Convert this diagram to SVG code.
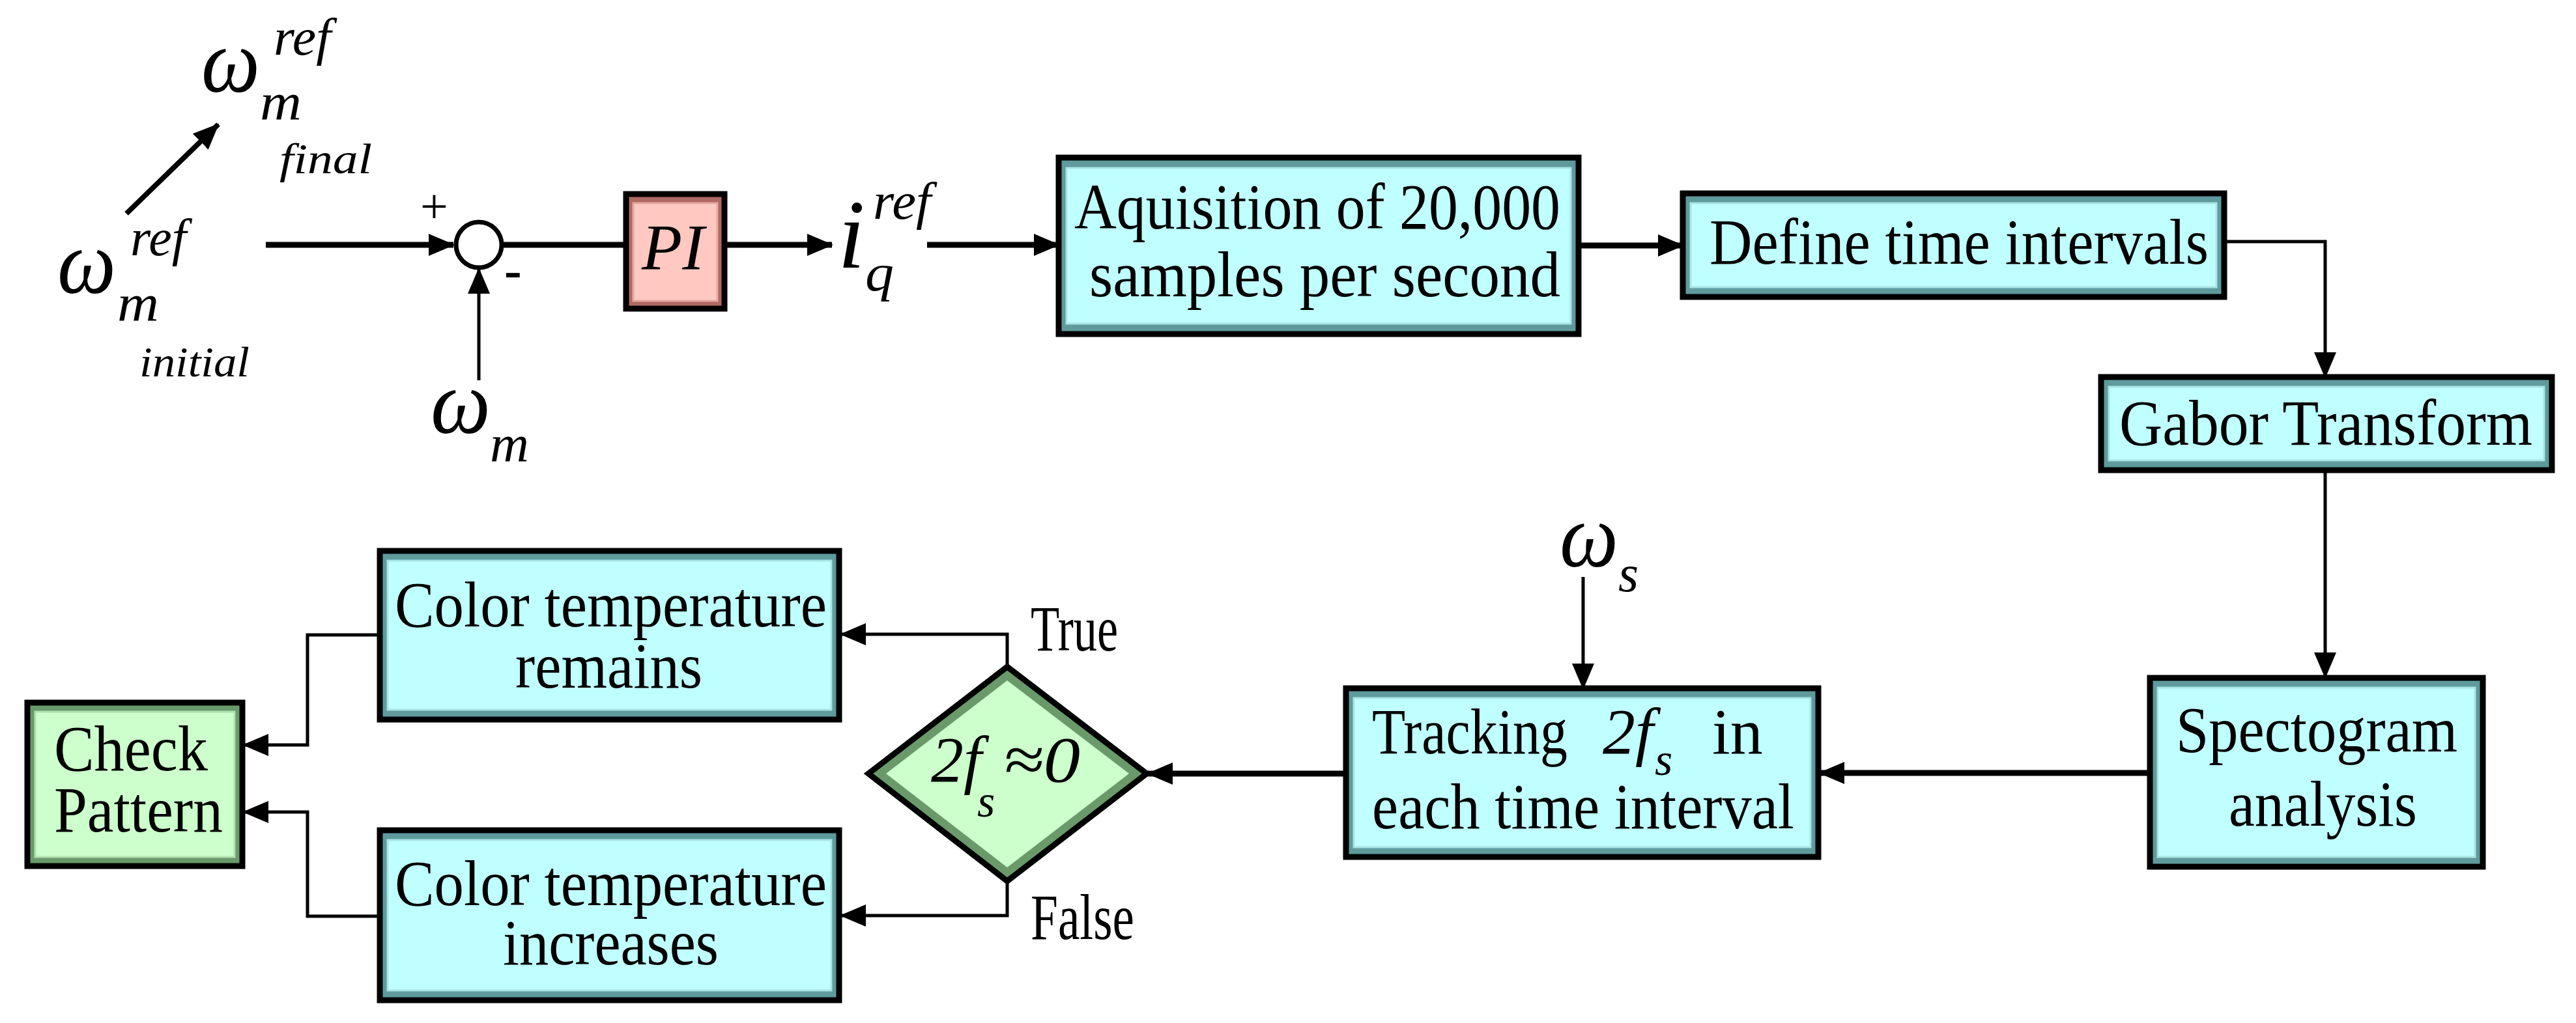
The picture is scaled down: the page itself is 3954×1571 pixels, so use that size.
<svg xmlns="http://www.w3.org/2000/svg" width="3954" height="1571" viewBox="0 0 3954 1571" font-family="'Liberation Serif', 'DejaVu Serif', serif">
<style>
text{font-family:'Liberation Serif','DejaVu Serif',serif}
.t{font-size:100px;fill:#000}
.m{font-style:italic;fill:#000}
.outer{stroke:#000;stroke-width:9}
.cy{fill:#5f9a9c}.cyi{fill:#c0ffff;stroke:#a8e4e4;stroke-width:3}
.gr{fill:#6a9a6a}.gri{fill:#ccffcc;stroke:#b0e0b0;stroke-width:3}
.rd{fill:#b06a62}.rdi{fill:#ffc8c0;stroke:#e8a8a0;stroke-width:3}
.c{fill:none;stroke:#000}
.k{stroke-width:9}.n{stroke-width:5}
</style>
<defs>
<marker id="a" markerUnits="userSpaceOnUse" markerWidth="40" markerHeight="34" refX="38" refY="17" orient="auto"><path d="M0,0L40,17L0,34z" fill="#000"/></marker>
</defs>
<g id="connectors">
<path class="c k" d="M408,376H696" marker-end="url(#a)"/>
<path class="c n" d="M735,584V413" marker-end="url(#a)"/>
<path class="c k" d="M771,376H961"/>
<path class="c k" d="M1112,376H1277" marker-end="url(#a)"/>
<path class="c k" d="M1423,376H1625" marker-end="url(#a)"/>
<path class="c k" d="M2423,377H2583" marker-end="url(#a)"/>
<path class="c n" d="M3414,371H3569V579" marker-end="url(#a)"/>
<path class="c n" d="M3569,722V1040" marker-end="url(#a)"/>
<path class="c k" d="M3300,1187H2793" marker-end="url(#a)"/>
<path class="c n" d="M2430,886V1057" marker-end="url(#a)"/>
<path class="c k" d="M2066,1188H1762" marker-end="url(#a)"/>
<path class="c n" d="M1546,1024V974H1291" marker-end="url(#a)"/>
<path class="c n" d="M1546,1353V1406H1291" marker-end="url(#a)"/>
<path class="c n" d="M583,975H472V1144H374" marker-end="url(#a)"/>
<path class="c n" d="M583,1407H472V1247H374" marker-end="url(#a)"/>
<path class="c" d="M194,328L335,191" marker-end="url(#a)" style="stroke-width:8"/>
</g>
<g id="wref_initial">
<text class="m" x="88" y="450" font-size="140" textLength="90" lengthAdjust="spacingAndGlyphs">ω</text>
<text class="m" x="180" y="492" font-size="80" textLength="64" lengthAdjust="spacingAndGlyphs">m</text>
<text class="m" x="200" y="392" font-size="80" textLength="86" lengthAdjust="spacingAndGlyphs">ref</text>
<text class="m" x="214" y="578" font-size="66" textLength="169" lengthAdjust="spacingAndGlyphs">initial</text>
</g>
<g id="wref_final">
<text class="m" x="309" y="141" font-size="140" textLength="90" lengthAdjust="spacingAndGlyphs">ω</text>
<text class="m" x="399" y="183" font-size="80" textLength="64" lengthAdjust="spacingAndGlyphs">m</text>
<text class="m" x="420" y="84" font-size="80" textLength="88" lengthAdjust="spacingAndGlyphs">ref</text>
<text class="m" x="429" y="266" font-size="66" textLength="142" lengthAdjust="spacingAndGlyphs">final</text>
</g>
<g id="sum">
<circle cx="735" cy="376" r="35" fill="#fff" stroke="#000" stroke-width="7"/>
<text x="645" y="342" font-size="76">+</text>
<text x="774" y="442" font-size="80" font-weight="bold">-</text>
</g>
<g id="wm">
<text class="m" x="661" y="665" font-size="140" textLength="92" lengthAdjust="spacingAndGlyphs">ω</text>
<text class="m" x="752" y="708" font-size="80" textLength="60" lengthAdjust="spacingAndGlyphs">m</text>
</g>
<g id="PI">
<rect class="rd outer" x="961" y="298" width="151" height="176"/>
<rect class="rdi" x="972" y="312" width="129" height="150"/>
<text class="m" x="985" y="413" font-size="100" textLength="96" lengthAdjust="spacingAndGlyphs">PI</text>
</g>
<g id="iq">
<text class="m" x="1286" y="411" font-size="150">i</text>
<text class="m" x="1328" y="446" font-size="80" textLength="44" lengthAdjust="spacingAndGlyphs">q</text>
<text class="m" x="1340" y="336" font-size="80" textLength="89" lengthAdjust="spacingAndGlyphs">ref</text>
</g>
<g id="acq">
<rect class="cy outer" x="1625" y="242" width="798" height="271"/>
<rect class="cyi" x="1637" y="258" width="774" height="239"/>
<text class="t" x="1649" y="351" textLength="746" lengthAdjust="spacingAndGlyphs">Aquisition of 20,000</text>
<text class="t" x="1672" y="455" textLength="723" lengthAdjust="spacingAndGlyphs">samples per second</text>
</g>
<g id="define">
<rect class="cy outer" x="2583" y="297" width="831" height="159"/>
<rect class="cyi" x="2595" y="312" width="807" height="129"/>
<text class="t" x="2624" y="405" textLength="766" lengthAdjust="spacingAndGlyphs">Define time intervals</text>
</g>
<g id="gabor">
<rect class="cy outer" x="3225" y="579" width="692" height="143"/>
<rect class="cyi" x="3237" y="594" width="668" height="113"/>
<text class="t" x="3253" y="683" textLength="634" lengthAdjust="spacingAndGlyphs">Gabor Transform</text>
</g>
<g id="spectogram">
<rect class="cy outer" x="3300" y="1041" width="511" height="290"/>
<rect class="cyi" x="3312" y="1056" width="487" height="260"/>
<text class="t" x="3340" y="1154" textLength="432" lengthAdjust="spacingAndGlyphs">Spectogram</text>
<text class="t" x="3421" y="1268" textLength="289" lengthAdjust="spacingAndGlyphs">analysis</text>
</g>
<g id="ws">
<text class="m" x="2394" y="870" font-size="140" textLength="90" lengthAdjust="spacingAndGlyphs">ω</text>
<text class="m" x="2484" y="908" font-size="80">s</text>
</g>
<g id="tracking">
<rect class="cy outer" x="2066" y="1057" width="725" height="259"/>
<rect class="cyi" x="2078" y="1072" width="701" height="229"/>
<text class="t" x="2106" y="1157" textLength="300" lengthAdjust="spacingAndGlyphs">Tracking</text>
<text class="m" x="2460" y="1157" font-size="100">2f</text>
<text class="m" x="2540" y="1190" font-size="70">s</text>
<text class="t" x="2628" y="1157">in</text>
<text class="t" x="2106" y="1272" textLength="648" lengthAdjust="spacingAndGlyphs">each time interval</text>
</g>
<g id="decision">
<path d="M1333,1188L1546,1024L1760,1188L1546,1353z" fill="#6a9a6a" stroke="#000" stroke-width="9"/>
<path d="M1360,1188L1546,1045L1733,1188L1546,1332z" fill="#ccffcc"/>
<text class="m" x="1429" y="1200" font-size="100">2f</text>
<text class="m" x="1500" y="1254" font-size="70">s</text>
<text class="m" x="1540" y="1200" font-size="100" textLength="118" lengthAdjust="spacingAndGlyphs">≈0</text>
<text class="t" x="1582" y="999" font-size="68" textLength="134" lengthAdjust="spacingAndGlyphs">True</text>
<text class="t" x="1582" y="1442" font-size="68" textLength="159" lengthAdjust="spacingAndGlyphs">False</text>
</g>
<g id="remains">
<rect class="cy outer" x="583" y="846" width="705" height="259"/>
<rect class="cyi" x="595" y="861" width="681" height="229"/>
<text class="t" x="606" y="962" textLength="663" lengthAdjust="spacingAndGlyphs">Color temperature</text>
<text class="t" x="791" y="1056" textLength="287" lengthAdjust="spacingAndGlyphs">remains</text>
</g>
<g id="increases">
<rect class="cy outer" x="583" y="1275" width="705" height="261"/>
<rect class="cyi" x="595" y="1290" width="681" height="231"/>
<text class="t" x="606" y="1390" textLength="663" lengthAdjust="spacingAndGlyphs">Color temperature</text>
<text class="t" x="772" y="1481" textLength="331" lengthAdjust="spacingAndGlyphs">increases</text>
</g>
<g id="check">
<rect class="gr outer" x="42" y="1079" width="330" height="251"/>
<rect class="gri" x="54" y="1093" width="306" height="223"/>
<text class="t" x="83" y="1183" textLength="236" lengthAdjust="spacingAndGlyphs">Check</text>
<text class="t" x="83" y="1277" textLength="259" lengthAdjust="spacingAndGlyphs">Pattern</text>
</g>
</svg>
